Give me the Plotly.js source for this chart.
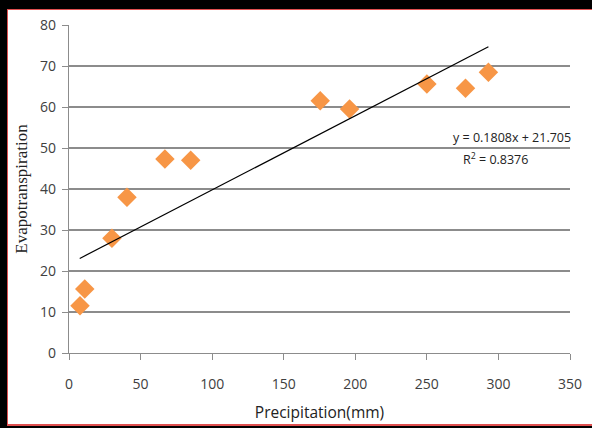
<!DOCTYPE html>
<html>
<head>
<meta charset="utf-8">
<script src="https://cdn.plot.ly/plotly-3.0.1.min.js"></script>
<style>
html,body{margin:0;padding:0;width:592px;height:428px;overflow:hidden;background:#fff;}
.b{position:absolute;}
#chart{position:absolute;left:0;top:0;width:592px;height:428px;}
</style>
</head>
<body>
<div class="b" style="left:0;top:0;width:592px;height:9px;background:#000;"></div>
<div class="b" style="left:0;top:0;width:7px;height:428px;background:#000;"></div>
<div class="b" style="left:0;top:426px;width:592px;height:2px;background:#000;"></div>
<div class="b" style="left:7px;top:9px;width:585px;height:1px;background:#e05050;"></div>
<div class="b" style="left:7px;top:9px;width:1px;height:417px;background:#e05050;"></div>
<div class="b" style="left:7px;top:424px;width:585px;height:2px;background:#e05050;"></div>
<div id="chart"></div>
<script>
const precipitation = [7.7, 11, 30, 40.5, 67, 85, 175.5, 196, 250, 277, 293];
const evapotranspiration = [11.5, 15.6, 28, 38, 47.3, 47, 61.5, 59.5, 65.6, 64.6, 68.5];
const trendX = [7.5, 293];
const trendY = [23.06, 74.68];
const xTicks = [0, 50, 100, 150, 200, 250, 300, 350];
const yTicks = [0, 10, 20, 30, 40, 50, 60, 70, 80];
const equationText = "y = 0.1808x + 21.705";
const r2Text = "R<sup>2</sup> = 0.8376";

const tickFont = {family: "Open Sans, Noto Sans, sans-serif", size: 14, color: "#404040"};

const data = [
  {
    x: precipitation, y: evapotranspiration, type: "scatter", mode: "markers",
    marker: {symbol: "diamond", size: 15, color: "#F79646", line: {width: 0}},
    hoverinfo: "skip"
  },
  {
    x: trendX, y: trendY, type: "scatter", mode: "lines",
    line: {color: "#000", width: 1.2}, hoverinfo: "skip"
  }
];

const layout = {
  width: 592, height: 428,
  paper_bgcolor: "rgba(0,0,0,0)", plot_bgcolor: "rgba(0,0,0,0)",
  showlegend: false,
  margin: {l: 69, r: 22, t: 25, b: 75},
  xaxis: {
    range: [0, 350], tickvals: xTicks, ticktext: xTicks.map(String),
    showgrid: false, zeroline: false, showline: true, linecolor: "#8c8c8c", linewidth: 1.2,
    ticks: "outside", ticklen: 6, tickcolor: "#8c8c8c", tickfont: tickFont,
    ticklabelstandoff: 12,
    title: {text: "Precipitation(mm)", font: {family: "Open Sans, Noto Sans, sans-serif", size: 15.5, color: "#222"}, standoff: 15}
  },
  yaxis: {
    range: [0, 80], tickvals: yTicks, ticktext: yTicks.map(String),
    showgrid: true, gridcolor: "#8c8c8c", gridwidth: 1.2,
    zeroline: false, showline: true, linecolor: "#8c8c8c", linewidth: 1.2,
    ticks: "outside", ticklen: 6, tickcolor: "#8c8c8c", tickfont: tickFont,
    ticklabelstandoff: 3,
    title: {text: "Evapotranspiration", font: {family: "Liberation Serif, DejaVu Serif, serif", size: 17, color: "#222"}, standoff: 8}
  },
  annotations: [
    {x: 1.006, y: 52.6, xref: "paper", yref: "y", text: equationText, showarrow: false, xanchor: "right", yanchor: "middle",
     font: {family: "Open Sans, Noto Sans, sans-serif", size: 12.5, color: "#222"}},
    {x: 298, y: 47.3, xref: "x", yref: "y", text: r2Text, showarrow: false, xanchor: "center", yanchor: "middle",
     font: {family: "Open Sans, Noto Sans, sans-serif", size: 12.5, color: "#222"}}
  ]
};

Plotly.newPlot("chart", data, layout, {displayModeBar: false, staticPlot: true});
</script>
</body>
</html>
